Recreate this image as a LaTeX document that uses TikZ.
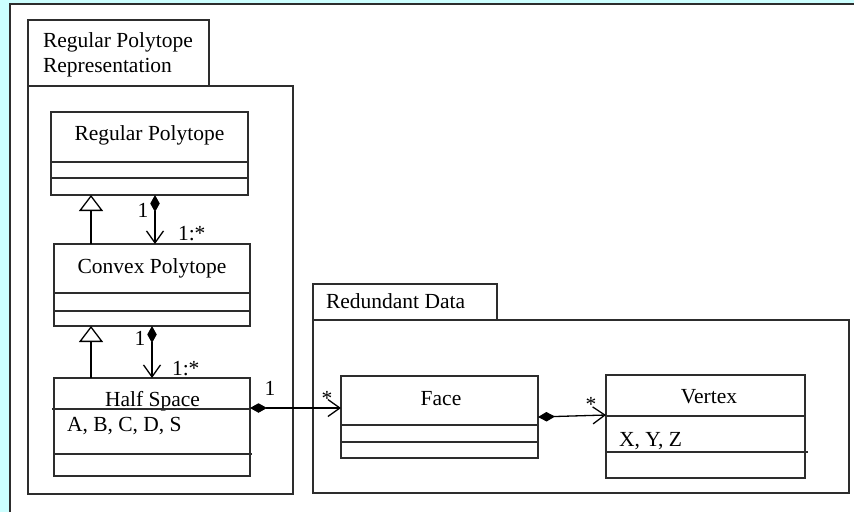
\documentclass[tikz,border=0pt]{standalone}
\usepackage{fontspec}
\setmainfont{Liberation Serif}
\usetikzlibrary{arrows.meta,positioning}
\definecolor{paper}{RGB}{204,255,255}
\definecolor{ink}{RGB}{45,45,45}

\begin{document}
\begin{tikzpicture}[x=1pt, y=-1pt,
  every node/.style={font=\fontsize{21.5}{25}\selectfont, inner sep=0pt, outer sep=0pt},
  pkgbox/.style={draw=ink, line width=1.4pt, anchor=north west},
  umlbox/.style={draw=ink, line width=1.4pt, anchor=north west},
  lbl/.style={anchor=base},
  sep/.style={ink, line width=1.4pt},
  comp/.style={line width=1.3pt, arrows={Diamond[width=9.5pt,length=17pt]-Straight Barb[width=17pt,length=12pt]}},
  gen/.style={line width=1.3pt, arrows={-Triangle[open,width=24pt,length=16pt]}}]
  \useasboundingbox (0,0) rectangle (854,512);

  % screen background and sheet
  \fill[paper] (0,0) rectangle (854,512);
  \fill[white] (10,4) rectangle (854,512);
  \draw[ink, line width=1.5pt] (10,512) -- (10,4) -- (854,4);

  % packages
  \node[pkgbox, minimum width=181pt, minimum height=66pt] (reptab) at (28,20) {};
  \node[pkgbox, minimum width=265pt, minimum height=408pt] (rep) at (28,86) {};
  \node[anchor=base west] (reptxtA) at (43,47) {Regular Polytope};
  \node[anchor=base west] (reptxtB) at (43,72) {Representation};

  \node[pkgbox, minimum width=184pt, minimum height=36pt] (redtab) at (313,284) {};
  \node[pkgbox, minimum width=536pt, minimum height=173pt] (red) at (313,320) {};
  \node[anchor=base west] (redtxt) at (326,308) {Redundant Data};

  % classes (name, attributes, operations)
  \node[umlbox, minimum width=197pt, minimum height=83pt] (rp) at (51,112) {};
  \node[lbl] (rptxt) at (149.5,140) {Regular Polytope};
  \draw[sep] ([yshift=-50pt]rp.north west) -- ([yshift=-50pt]rp.north east);
  \draw[sep] ([yshift=-66pt]rp.north west) -- ([yshift=-66pt]rp.north east);

  \node[umlbox, minimum width=196pt, minimum height=82pt] (cp) at (54,244) {};
  \node[lbl] (cptxt) at (152,273) {Convex Polytope};
  \draw[sep] ([yshift=-49pt]cp.north west) -- ([yshift=-49pt]cp.north east);
  \draw[sep] ([yshift=-67pt]cp.north west) -- ([yshift=-67pt]cp.north east);

  \node[umlbox, minimum width=196pt, minimum height=98pt] (hs) at (54,378) {};
  \node[lbl] (hstxt) at (152.5,406) {Half Space};
  \node[anchor=base west] (hsattr) at (67,431) {A, B, C, D, S};
  \draw[sep] ([xshift=-2pt,yshift=-31pt]hs.north west) -- ([yshift=-31pt]hs.north east);
  \draw[sep] ([yshift=-76pt]hs.north west) -- ([xshift=2pt,yshift=-76pt]hs.north east);

  \node[umlbox, minimum width=197pt, minimum height=82pt] (face) at (341,376) {};
  \node[lbl] (facetxt) at (441,405) {Face};
  \draw[sep] ([yshift=-49pt]face.north west) -- ([yshift=-49pt]face.north east);
  \draw[sep] ([yshift=-66pt]face.north west) -- ([yshift=-66pt]face.north east);

  \node[umlbox, minimum width=199pt, minimum height=103pt] (vx) at (606,375) {};
  \node[lbl] (vxtxt) at (709,403) {Vertex};
  \node[anchor=base west] (vxattr) at (619,446) {X, Y, Z};
  \draw[sep] ([yshift=-41pt]vx.north west) -- ([yshift=-41pt]vx.north east);
  \draw[sep] ([yshift=-77pt]vx.north west) -- ([xshift=3pt,yshift=-77pt]vx.north east);

  % generalisation
  \draw[gen] ([xshift=37pt]cp.north west) -- ([xshift=40pt]rp.south west);
  \draw[gen] ([xshift=37pt]hs.north west) -- ([xshift=37pt]cp.south west);

  % composition
  \draw[comp] ([xshift=104pt]rp.south west) -- ([xshift=101pt]cp.north west);
  \draw[comp] ([xshift=98pt]cp.south west) -- ([xshift=98pt]hs.north west);
  \draw[comp] ([yshift=-30pt]hs.north east) -- ([yshift=-32pt]face.north west);
  \draw[comp] (face.east) -- ([yshift=-40pt]vx.north west);

  % multiplicities
  \node[lbl] (m1) at (143,217) {1};
  \node[anchor=base west] (m2) at (178,240) {1:*};
  \node[lbl] (m3) at (140,345) {1};
  \node[anchor=base west] (m4) at (172,375) {1:*};
  \node[lbl] (m5) at (270,395) {1};
  \node[lbl] (m6) at (327,405) {*};
  \node[lbl] (m7) at (591,411) {*};
\end{tikzpicture}
\end{document}
